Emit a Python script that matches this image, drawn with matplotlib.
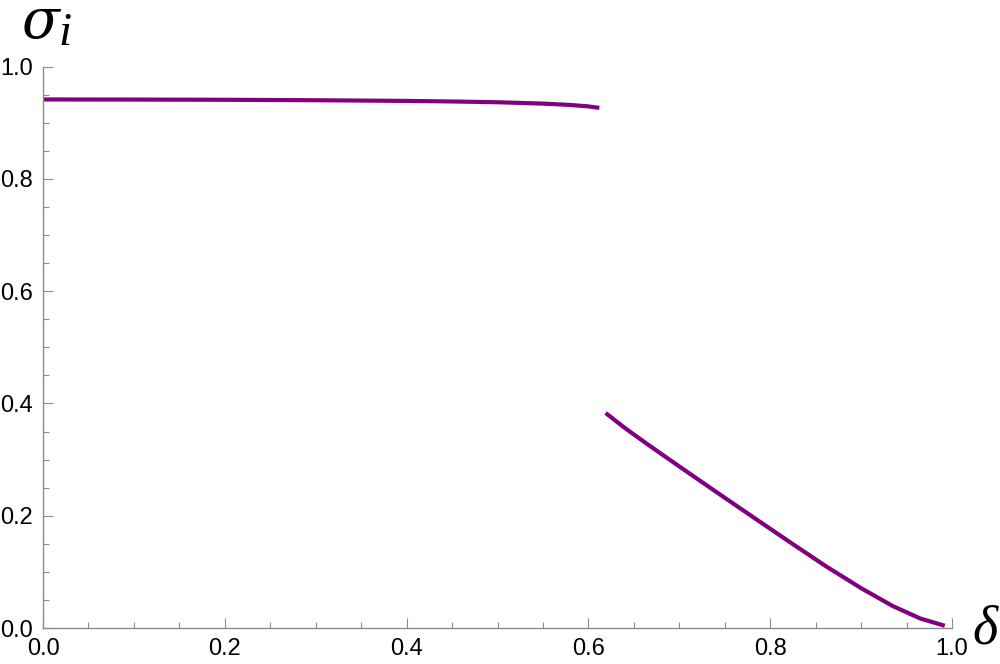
import matplotlib
matplotlib.use('Agg')
import matplotlib.pyplot as plt
from matplotlib.ticker import MultipleLocator

plt.rcParams['mathtext.fontset'] = 'stix'

# upper branch
x_upper = [0.0, 0.1, 0.2, 0.3, 0.4, 0.45, 0.5, 0.55, 0.58, 0.6, 0.612]
y_upper = [0.9416, 0.9414, 0.9410, 0.9402, 0.9390, 0.9380, 0.9366, 0.9342, 0.9318, 0.9292, 0.9266]

# lower branch
x_lower = [0.619, 0.64, 0.664, 0.7, 0.75, 0.79, 0.825, 0.862, 0.9, 0.935, 0.965, 0.992]
y_lower = [0.383, 0.3565, 0.3285, 0.2878, 0.2320, 0.1878, 0.1493, 0.1093, 0.071, 0.039, 0.017, 0.004]

xticks = [0.0, 0.2, 0.4, 0.6, 0.8, 1.0]
yticks = [0.0, 0.2, 0.4, 0.6, 0.8, 1.0]

purple = '#800080'
axcol = '#8c8c8c'

fig = plt.figure(figsize=(10, 6.64), dpi=100)
ax = fig.add_axes([0.043, 0.0542, 0.909, 0.8454])

ax.plot(x_upper, y_upper, color=purple, lw=3, clip_on=False,
        solid_capstyle='butt', solid_joinstyle='round')
ax.plot(x_lower, y_lower, color=purple, lw=3, clip_on=False,
        solid_capstyle='butt', solid_joinstyle='round')

ax.set_xlim(0, 1)
ax.set_ylim(0, 1)
ax.set_xticks(xticks)
ax.set_yticks(yticks)
ax.set_xticklabels(['%.1f' % t for t in xticks])
ax.set_yticklabels(['%.1f' % t for t in yticks])
ax.xaxis.set_minor_locator(MultipleLocator(0.05))
ax.yaxis.set_minor_locator(MultipleLocator(0.05))

for s in ['top', 'right']:
    ax.spines[s].set_visible(False)
for s in ['left', 'bottom']:
    ax.spines[s].set_color(axcol)
    ax.spines[s].set_linewidth(1.0)

ax.tick_params(which='major', direction='in', length=7, width=0.8, color=axcol,
               labelsize=17, pad=7)
ax.tick_params(which='minor', direction='in', length=4, width=0.8, color=axcol)
for lab in ax.get_xticklabels() + ax.get_yticklabels():
    lab.set_fontfamily('Liberation Sans')

# axis labels, Mathematica-style
fig.text(0.021, 1 - 38 / 664, 'σ', family='DejaVu Serif', style='italic',
         fontsize=40, va='baseline', ha='left')
fig.text(0.058, 1 - 45 / 664, 'i', family='Liberation Serif', style='italic',
         fontsize=34, va='baseline', ha='left')
fig.text(0.972, 1 - 643 / 664, 'δ', family='Liberation Serif', style='italic',
         fontsize=39, va='baseline', ha='left')

fig.savefig('out.png', dpi=100)
